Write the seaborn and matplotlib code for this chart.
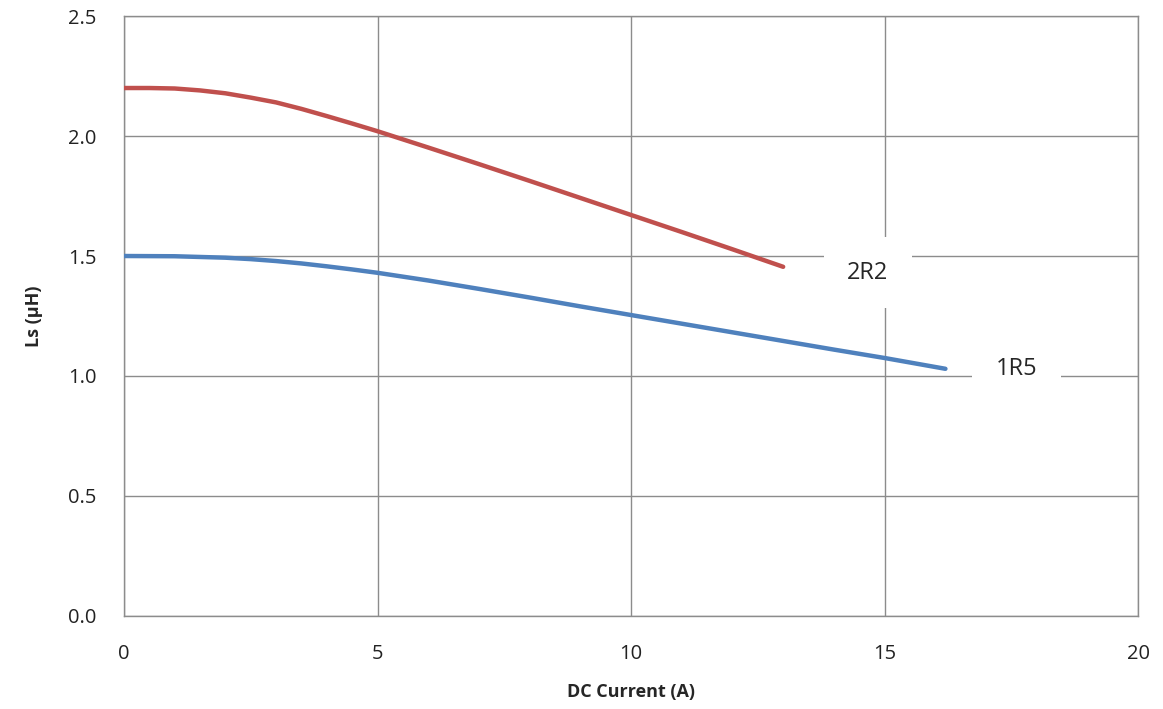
import matplotlib
matplotlib.use('Agg')
import matplotlib.pyplot as plt
import pandas as pd
import seaborn as sns

# inductance vs DC current
current_2r2 = [0, 0.5, 1, 1.5, 2, 2.5, 3, 3.5, 4, 4.5, 5, 6, 7, 8, 9, 10, 11, 12, 13]
ls_2r2 = [2.20, 2.20, 2.198, 2.19, 2.178, 2.16, 2.14, 2.113, 2.083, 2.052, 2.02,
          1.952, 1.883, 1.813, 1.742, 1.671, 1.60, 1.528, 1.455]

current_1r5 = [0, 1, 2, 2.5, 3, 3.5, 4, 4.5, 5, 6, 7, 8, 9, 10, 11, 12, 13, 14, 15, 16.2]
ls_1r5 = [1.50, 1.499, 1.493, 1.487, 1.479, 1.469, 1.457, 1.444, 1.43, 1.398, 1.363,
          1.327, 1.29, 1.254, 1.218, 1.182, 1.146, 1.11, 1.075, 1.03]

x_ticks = [0, 5, 10, 15, 20]
y_ticks = [0.0, 0.5, 1.0, 1.5, 2.0, 2.5]

df = pd.concat([
    pd.DataFrame({'current': current_2r2, 'ls': ls_2r2, 'part': '2R2'}),
    pd.DataFrame({'current': current_1r5, 'ls': ls_1r5, 'part': '1R5'}),
])

sns.set_style('white')
plt.rcParams['font.family'] = ['Open Sans', 'DejaVu Sans']

fig = plt.figure(figsize=(11.63, 7.09), dpi=100)
ax = fig.add_axes([0.1066, 0.1312, 0.872, 0.8462])

sns.lineplot(data=df, x='current', y='ls', hue='part',
             palette={'2R2': '#C0504D', '1R5': '#4F81BD'},
             linewidth=3.2, legend=False, ax=ax, zorder=3)

ax.set_xlim(0, 20)
ax.set_ylim(0, 2.5)
ax.set_xticks(x_ticks)
ax.set_yticks(y_ticks)
ax.set_yticklabels([f'{v:.1f}' for v in y_ticks])
ax.grid(True, color='#8c8c8c', linewidth=1.0, zorder=1)
for s in ax.spines.values():
    s.set_color('#8c8c8c')
    s.set_linewidth(1.0)
ax.tick_params(length=0, labelsize=14.5, colors='#222222')
ax.tick_params(axis='x', pad=20)
ax.tick_params(axis='y', pad=20)

ax.set_xlabel('DC Current (A)', fontsize=13, fontweight='bold', labelpad=14)
ax.set_ylabel('Ls (µH)', fontsize=13, fontweight='bold', labelpad=18)

box = dict(boxstyle='square,pad=1.0', facecolor='white', edgecolor='none')
ax.text(14.67, 1.43, '2R2', fontsize=17, ha='center', va='center', bbox=box, zorder=4)
ax.text(17.6, 1.03, '1R5', fontsize=17, ha='center', va='center', bbox=box, zorder=4)

fig.savefig('out.png', dpi=100)
